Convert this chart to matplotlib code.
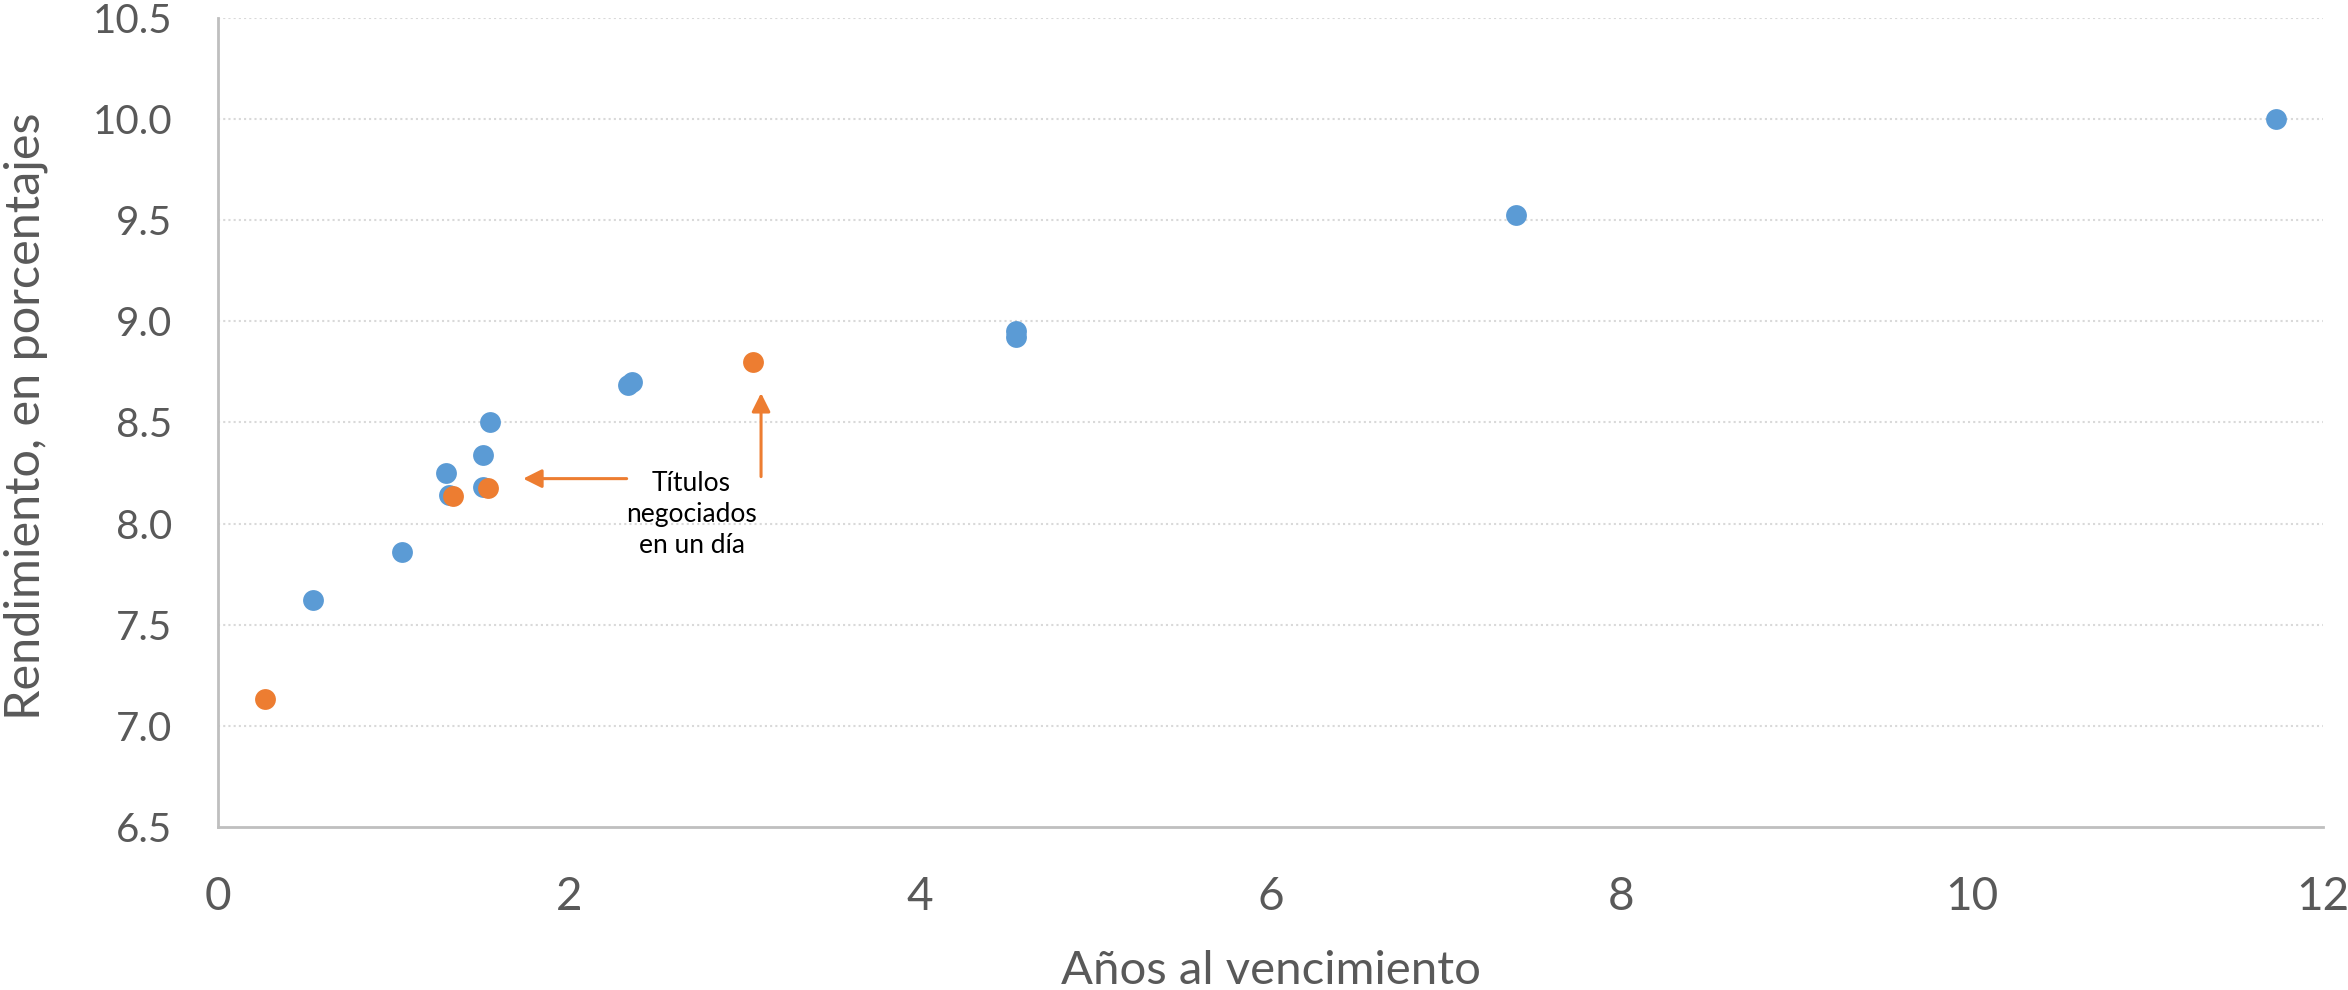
import numpy as np
import matplotlib.pyplot as plt

# titulos (azul) y titulos negociados en un dia (naranja)
blueX = [0.54, 1.05, 1.30, 1.32, 1.51, 1.51, 1.55, 2.34, 2.36, 4.55, 4.55, 7.40, 11.73]
blueY = [7.62, 7.86, 8.25, 8.14, 8.34, 8.18, 8.50, 8.685, 8.70, 8.92, 8.95, 9.525, 10.00]
orangeX = [0.27, 1.34, 1.54, 3.05]
orangeY = [7.135, 8.135, 8.175, 8.80]

xTicks = [0, 2, 4, 6, 8, 10, 12]
yTicks = [6.5, 7.0, 7.5, 8.0, 8.5, 9.0, 9.5, 10.0, 10.5]

blue = '#5b9bd5'
orange = '#ed7d31'
grey = '#595959'

fig = plt.figure(figsize=(23.48, 9.9), dpi=100)
ax = fig.add_axes([0.0928, 0.1646, 0.8966, 0.8175])

ax.scatter(blueX, blueY, s=225, color=blue, zorder=3, linewidths=0)
ax.scatter(orangeX, orangeY, s=225, color=orange, zorder=4, linewidths=0)

ax.set_xlim(0, 12)
ax.set_ylim(6.5, 10.5)
ax.set_xticks(xTicks)
ax.set_yticks(yTicks)
ax.set_yticklabels(["%.1f" % v for v in yTicks], fontsize=29, color=grey, family='Lato')
ax.set_xticklabels([str(v) for v in xTicks], fontsize=33, color=grey, family='Lato')
ax.tick_params(axis='both', length=0)
ax.tick_params(axis='y', pad=33)
ax.tick_params(axis='x', pad=35)

for v in yTicks[1:]:
    ax.axhline(v, color='#d9d9d9', lw=1.5, linestyle=(0, (1, 1.5)), zorder=1)

for s in ['top', 'right']:
    ax.spines[s].set_visible(False)
for s in ['left', 'bottom']:
    ax.spines[s].set_color('#bfbfbf')
    ax.spines[s].set_linewidth(2)

ax.set_xlabel('Años al vencimiento', fontsize=34, color=grey, family='Lato')
ax.xaxis.set_label_coords(0.5, -0.152)
ax.set_ylabel('Rendimiento, en porcentajes', fontsize=35, color=grey, family='Lato')
ax.yaxis.set_label_coords(-0.0808, 0.508)

ax.text(2.70, 8.045, 'Títulos\nnegociados\nen un día', fontsize=19, family='Lato',
        ha='center', va='center', linespacing=1.3, color='black')
arrow = dict(arrowstyle='-|>', color=orange, lw=2.2, mutation_scale=28, shrinkA=0, shrinkB=0)
ax.annotate('', xy=(1.74, 8.222), xytext=(2.33, 8.222), arrowprops=arrow)
ax.annotate('', xy=(3.096, 8.645), xytext=(3.096, 8.232), arrowprops=arrow)

fig.savefig('out.png', dpi=100)
